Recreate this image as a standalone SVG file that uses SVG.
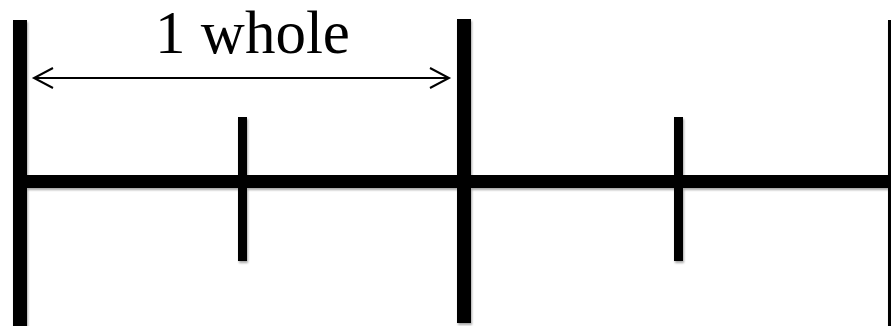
<svg xmlns="http://www.w3.org/2000/svg" width="891" height="326" viewBox="0 0 891 326">
<defs>
<style>
.bar{fill:#000}
.lbl{font-family:"Liberation Serif","Times New Roman",serif;font-size:61px;fill:#000}
.arr{stroke:#000;stroke-width:2;fill:none}
</style>
<filter id="sh" x="-10%" y="-10%" width="130%" height="130%">
<feGaussianBlur in="SourceAlpha" stdDeviation="1.2"/>
<feOffset dx="1" dy="2" result="b"/>
<feComponentTransfer><feFuncA type="linear" slope="0.35"/></feComponentTransfer>
<feMerge><feMergeNode/><feMergeNode in="SourceGraphic"/></feMerge>
</filter>
</defs>
<rect width="891" height="326" fill="#fff"/>
<g id="numberline" filter="url(#sh)">
<rect class="bar" x="13" y="175" width="878" height="13"/>
<rect class="bar" x="13" y="20" width="14" height="306"/>
<rect class="bar" x="457" y="19" width="14" height="304"/>
<rect class="bar" x="888" y="20" width="14" height="306"/>
<rect class="bar" x="238" y="117" width="9" height="144"/>
<rect class="bar" x="674" y="117" width="9" height="144"/>
</g>
<g id="connectors">
<line class="arr" x1="34" y1="78" x2="449" y2="78"/>
<polyline class="arr" points="53,68 34,78 53,88"/>
<polyline class="arr" points="430,68 449,78 430,88"/>
</g>
<g id="label">
<text class="lbl" x="252.5" y="53" text-anchor="middle">1 whole</text>
</g>
</svg>
